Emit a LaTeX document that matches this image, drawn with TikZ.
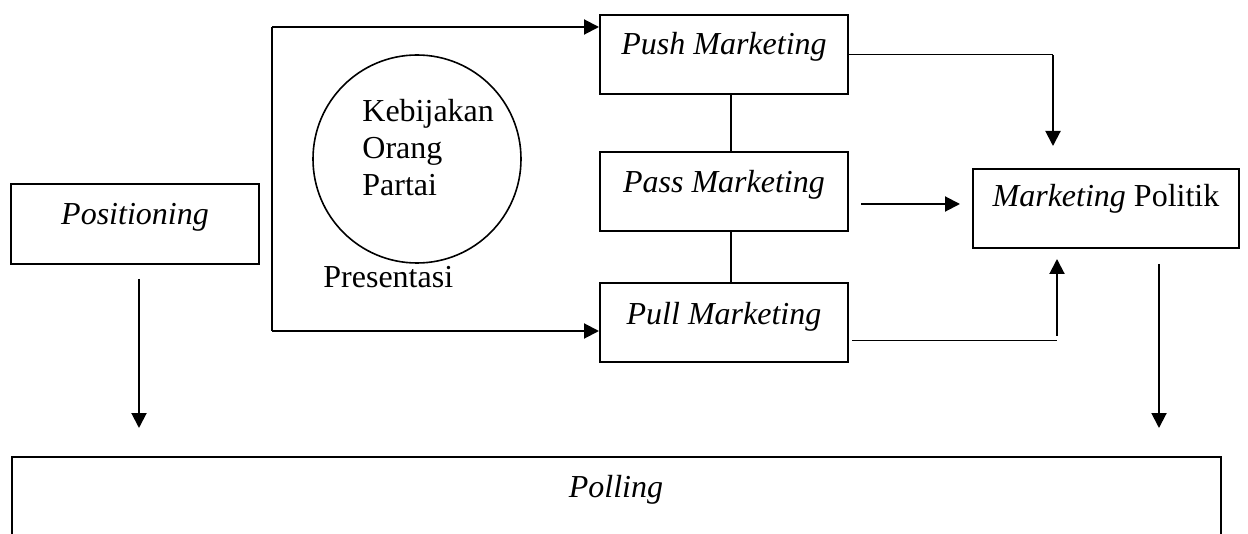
\documentclass[tikz,border=0pt]{standalone}
\usepackage{fontspec}
\setmainfont{Liberation Serif}
\usetikzlibrary{arrows.meta}
\begin{document}
\begin{tikzpicture}[x=0.5pt,y=-0.5pt,
  box/.style={draw, line width=1pt, rectangle, inner sep=0pt},
  lbl/.style={inner sep=0pt, font=\fontsize{16pt}{18.5pt}\selectfont},
  arr/.style={line width=1pt, -{Triangle[length=7.5pt,width=7.5pt]}},
  thinln/.style={line width=0.5pt},
  link/.style={line width=1pt}]
\useasboundingbox (0,0) rectangle (1248,534);
\clip (0,0) rectangle (1248,534);
% boxes
\node[box, minimum width=124pt, minimum height=40pt] (pos) at (135,224) {};
\node[lbl, anchor=base] (post) at (135,225) {\textit{Positioning}};
\node[box, minimum width=124pt, minimum height=39.5pt] (push) at (724,54.5) {};
\node[lbl, anchor=base] (pusht) at (724,55) {\textit{Push Marketing}};
\node[box, minimum width=124pt, minimum height=39.5pt] (pass) at (724,191.5) {};
\node[lbl, anchor=base] (passt) at (724,193) {\textit{Pass Marketing}};
\node[box, minimum width=124pt, minimum height=39.5pt] (pull) at (724,322.5) {};
\node[lbl, anchor=base] (pullt) at (724,325) {\textit{Pull Marketing}};
\node[box, minimum width=133pt, minimum height=39.5pt] (mp) at (1106,208.5) {};
\node[lbl, anchor=base] (mpt) at (1106,207) {\textit{Marketing} Politik};
\node[box, minimum width=604.5pt, minimum height=60pt] (poll) at (616.5,517) {};
\node[lbl, anchor=base] (pollt) at (616,497) {\textit{Polling}};
% circle
\node[draw, line width=0.8pt, circle, minimum size=104pt, inner sep=0pt] (circ) at (417,159) {};
\node[lbl, anchor=base west] (keb) at (362,122) {Kebijakan};
\node[lbl, anchor=base west] (ora) at (362,159) {Orang};
\node[lbl, anchor=base west] (par) at (362,196) {Partai};
\node[lbl, anchor=base west] (pres) at (323,288) {Presentasi};
% bracket
\coordinate (bt) at (272,27);
\coordinate (bb) at (272,331);
\draw[link] (bb) -- (bt);
\draw[arr] (bt) -- (push.west |- bt);
\draw[arr] (bb) -- (pull.west |- bb);
% vertical links between marketing boxes
\draw[link] ([xshift=3.5pt]push.south) -- ([xshift=3.5pt]pass.north);
\draw[link] ([xshift=3.5pt]pass.south) -- ([xshift=3.5pt]pull.north);
% push to marketing politik
\coordinate (pc) at (1053,55);
\coordinate (pe) at (1053,146);
\draw[thinln] (push.east |- pc) -- (pc);
\draw[arr] (pc) -- (pe);
% pass to marketing politik
\coordinate (ps) at (861,204);
\coordinate (pf) at (960,204);
\draw[arr] (ps) -- (pf);
% pull to marketing politik
\coordinate (lc) at (1057,341);
\coordinate (ls) at (852,341);
\coordinate (lu) at (1057,336);
\coordinate (le) at (1057,259);
\draw[thinln] (ls) -- (lc);
\draw[arr] (lu) -- (le);
% down arrows to polling
\coordinate (d1s) at (139,279);
\coordinate (d1e) at (139,428);
\coordinate (d2s) at (1159,264);
\coordinate (d2e) at (1159,428);
\draw[arr] (d1s) -- (d1e);
\draw[arr] (d2s) -- (d2e);
\end{tikzpicture}
\end{document}
